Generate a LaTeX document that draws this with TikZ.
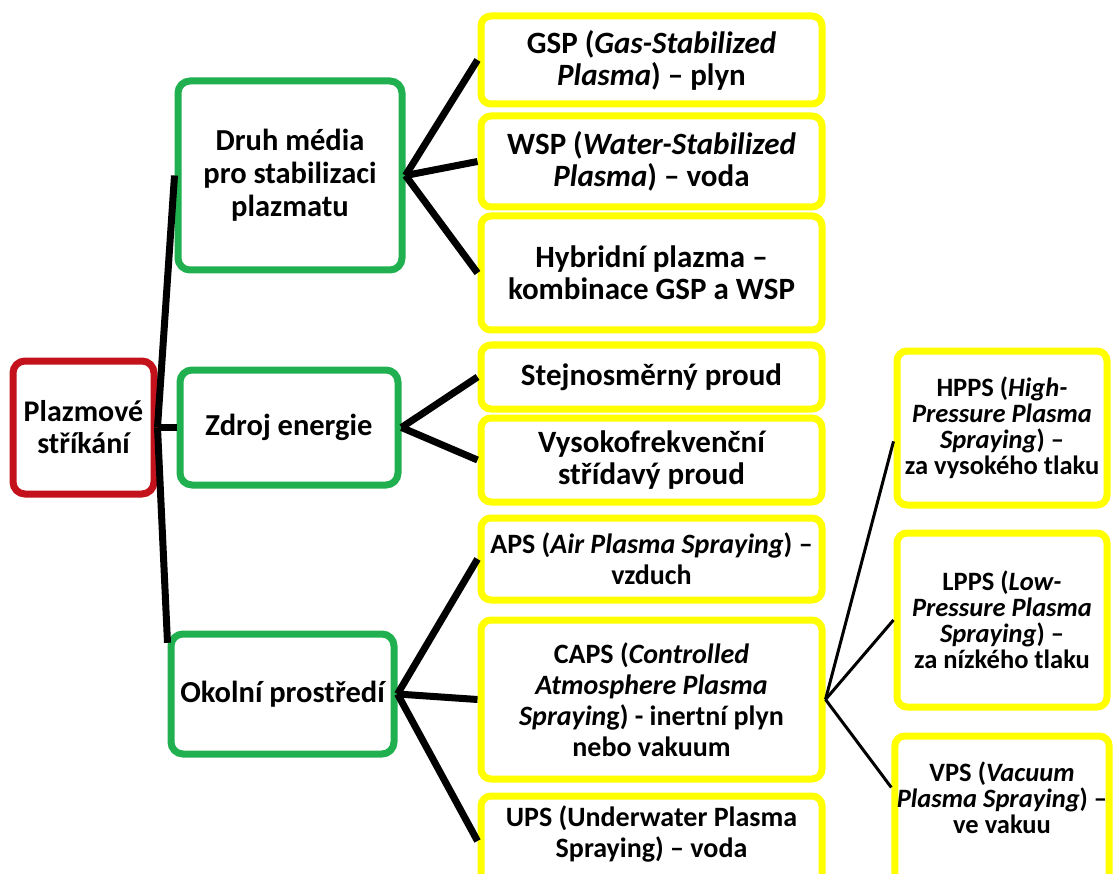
\documentclass[tikz,border=0pt]{standalone}
\usepackage{fontspec}
\setmainfont{Carlito}
\usetikzlibrary{positioning}
\definecolor{rootred}{RGB}{196,18,28}
\definecolor{catgreen}{RGB}{32,176,80}
\definecolor{leafyellow}{RGB}{255,255,0}

\begin{document}
\begin{tikzpicture}[
  x=1pt, y=-1pt,
  rootbox/.style={draw=rootred, line width=7pt, rounded corners=12pt, fill=white,
                  minimum width=141pt, minimum height=133pt, align=center, inner sep=2pt,
                  font=\fontsize{30}{32}\selectfont\bfseries},
  catbox/.style ={draw=catgreen, line width=7pt, rounded corners=12pt, fill=white,
                  align=center, inner sep=2pt, font=\fontsize{30.5}{33}\selectfont\bfseries},
  leafbox/.style={draw=leafyellow, line width=7pt, rounded corners=10pt, fill=white,
                  minimum width=341pt, align=center, inner sep=2pt,
                  font=\fontsize{31}{32}\selectfont\bfseries},
  envbox/.style ={leafbox, font=\fontsize{28}{31}\selectfont\bfseries},
  subbox/.style ={draw=leafyellow, line width=7pt, rounded corners=10pt, fill=white,
                  minimum width=210pt, align=center, inner sep=2pt,
                  font=\fontsize{26.5}{26}\selectfont\bfseries},
  link/.style   ={line width=7pt},
  sublink/.style={line width=3pt}]

\useasboundingbox[fill=white] (0,0) rectangle (1113,874);

% root and the three groups
\node[rootbox] (root) at (83.5,427.5) {Plazmové\\stříkání};
\node[catbox, minimum width=224pt, minimum height=189pt] (druh)   at (290,175.5) {Druh média\\pro stabilizaci\\plazmatu};
\node[catbox, minimum width=218pt, minimum height=115pt] (zdroj)  at (289,427.5) {Zdroj energie};
\node[catbox, minimum width=223pt, minimum height=120pt] (okolni) at (282.5,694) {Okolní prostředí};

% middle column
\node[leafbox, minimum height=88pt] (gsp) at (651.5,60) {GSP (\textit{Gas-Stabilized}\\\textit{Plasma}) – plyn};
\node[leafbox, minimum height=91pt,  below=5pt of gsp]     (wsp)    {WSP (\textit{Water-Stabilized}\\\textit{Plasma}) – voda};
\node[leafbox, minimum height=114pt, below=2pt of wsp]     (hybrid) {Hybridní plazma –\\kombinace GSP a WSP};
\node[leafbox, minimum height=64pt,  below=8pt of hybrid]  (dc)     {Stejnosměrný proud};
\node[leafbox, minimum height=84pt,  below=2pt of dc]      (hf)     {Vysokofrekvenční\\střídavý proud};
\node[envbox,  minimum height=82pt,  below=9pt of hf]      (aps)    {APS (\textit{Air Plasma Spraying}) –\\vzduch};
\node[envbox,  minimum height=159pt, below=13pt of aps]    (caps)   {CAPS (\textit{Controlled}\\\textit{Atmosphere Plasma}\\\textit{Sprayin}g) - inertní plyn\\nebo vakuum};
\node[envbox,  minimum height=90pt,  below=10pt of caps, text depth=19pt] (ups) {UPS (Underwater Plasma\\Spraying) – voda};

% right column
\node[subbox, minimum height=154pt] (hpps) at (1002,428) {HPPS (\textit{High-}\\\textit{Pressure Plasma}\\\textit{Spraying}) –\\za vysokého tlaku};
\node[subbox, minimum height=174pt] (lpps) at (1002,620) {LPPS (\textit{Low-}\\\textit{Pressure Plasma}\\\textit{Spraying}) –\\za nízkého tlaku};
\node[subbox, minimum height=150pt, text depth=26pt] (vps) at (1002,811) {VPS (\textit{Vacuum}\\\textit{Plasma Spraying}) –\\ve vakuu};

\draw[link] (root.east) -- (druh.west);
\draw[link] (root.east) -- (zdroj.west);
\draw[link] (root.east) -- (okolni.156);

\draw[link] (druh.east) -- (gsp.west);
\draw[link] (druh.east) -- (wsp.west);
\draw[link] (druh.east) -- (hybrid.west);

\draw[link] (zdroj.east) -- (dc.west);
\draw[link] (zdroj.east) -- (hf.west);

\draw[link] (okolni.east) -- (aps.west);
\draw[link] (okolni.east) -- (caps.west);
\draw[link] (okolni.east) -- (ups.west);

\draw[sublink] (caps.east) -- (hpps.187);
\draw[sublink] (caps.east) -- (lpps.west);
\draw[sublink] (caps.east) -- (vps.168);
\end{tikzpicture}
\end{document}
